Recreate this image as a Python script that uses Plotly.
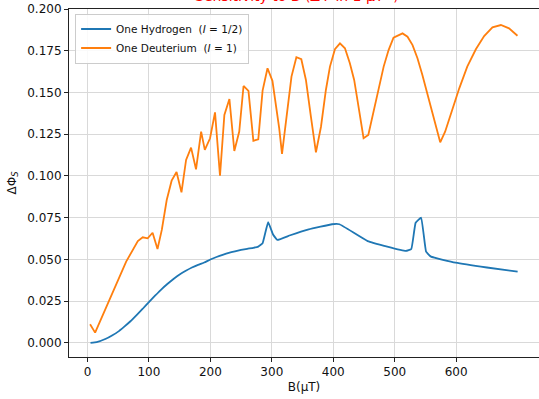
import plotly.graph_objects as go

# One Hydrogen (I = 1/2)
b_h = [5, 15, 30, 40, 50, 60, 70, 80, 90, 100, 110, 120, 130, 140, 150, 160, 170, 180, 190, 200, 210, 220, 230, 240, 250, 260, 270, 278, 285, 294, 302, 309, 330, 360, 398, 410, 456, 518, 527, 534, 543, 551, 559, 599, 650, 700]
v_h = [0.0, 0.0005, 0.0025, 0.0045, 0.0068, 0.0098, 0.0130, 0.0167, 0.0205, 0.0245, 0.0283, 0.0320, 0.0353, 0.0383, 0.0410, 0.0432, 0.0452, 0.0468, 0.0482, 0.0500, 0.0515, 0.0528, 0.0540, 0.0549, 0.0557, 0.0564, 0.0570, 0.0577, 0.0597, 0.0723, 0.0650, 0.0617, 0.0645, 0.0680, 0.0711, 0.0711, 0.0610, 0.0551, 0.0563, 0.0720, 0.0750, 0.0547, 0.0517, 0.0481, 0.0452, 0.0427]

# One Deuterium (I = 1)
b_d = [4.3, 12.5, 63, 75, 82, 90, 98, 106, 114, 121, 129, 137, 145, 153, 160.5, 168.6, 176.7, 185, 191, 199.5, 207.6, 215.7, 222.8, 231, 239, 247, 254, 262, 270, 278, 285, 293, 301, 312, 316.6, 332, 340, 348, 355.5, 363.6, 371.8, 380, 388, 394.6, 402.7, 410.9, 419, 427, 434, 442, 449.3, 457, 465.6, 473.7, 482, 490, 498, 512.7, 520.8, 529, 537, 545, 553, 561.5, 574, 582, 591, 605, 618, 632, 645.5, 659, 672.7, 686, 699.7]
v_d = [0.0112, 0.0062, 0.0487, 0.0570, 0.0610, 0.0633, 0.0627, 0.0660, 0.0563, 0.0677, 0.0856, 0.0972, 0.1024, 0.0902, 0.1096, 0.1170, 0.1040, 0.1266, 0.1156, 0.1226, 0.1381, 0.1002, 0.1365, 0.1461, 0.1150, 0.1266, 0.1539, 0.1509, 0.1211, 0.1220, 0.1511, 0.1645, 0.1570, 0.1286, 0.1132, 0.1595, 0.1711, 0.1699, 0.1575, 0.1355, 0.1142, 0.1295, 0.1515, 0.1655, 0.1759, 0.1794, 0.1765, 0.1675, 0.1575, 0.1395, 0.1226, 0.1246, 0.1385, 0.1525, 0.1655, 0.1754, 0.1828, 0.1854, 0.1834, 0.1784, 0.1705, 0.1605, 0.1495, 0.1375, 0.1202, 0.1265, 0.1365, 0.1525, 0.1655, 0.1759, 0.1838, 0.1890, 0.1904, 0.1884, 0.1840]

x_ticks = [0, 100, 200, 300, 400, 500, 600]
y_ticks = [0.0, 0.025, 0.05, 0.075, 0.1, 0.125, 0.15, 0.175, 0.2]
y_tick_text = ["0.000", "0.025", "0.050", "0.075", "0.100", "0.125", "0.150", "0.175", "0.200"]

font = "DejaVu Sans"

fig = go.Figure()
fig.add_trace(go.Scatter(x=b_h, y=v_h, mode="lines", name="One Hydrogen&nbsp;&nbsp;(<i>I</i> = 1/2)",
                         line=dict(color="#1f77b4", width=1.8, shape="spline", smoothing=0.3)))
fig.add_trace(go.Scatter(x=b_d, y=v_d, mode="lines", name="One Deuterium&nbsp;&nbsp;(<i>I</i> = 1)",
                         line=dict(color="#ff7f0e", width=1.8)))

axis_common = dict(showline=True, linecolor="#222222", linewidth=1, mirror=True,
                   showgrid=True, gridcolor="#d9d9d9", gridwidth=0.8,
                   ticks="outside", ticklen=4, tickwidth=1, tickcolor="#222222",
                   zeroline=False, tickfont=dict(family=font, size=12, color="#111111"))

fig.update_layout(
    width=539, height=399,
    margin=dict(l=69, r=0, t=9, b=42),
    paper_bgcolor="white", plot_bgcolor="white",
    font=dict(family=font, size=12, color="#111111"),
    xaxis=dict(range=[-30, 734.75], tickvals=x_ticks,
               title=dict(text="B(μT)", font=dict(family=font, size=12), standoff=4), **axis_common),
    yaxis=dict(range=[-0.0084, 0.2], tickvals=y_ticks, ticktext=y_tick_text,
               title=dict(text="ΔΦ<sub><i>S</i></sub>", font=dict(family=font, size=12), standoff=8), **axis_common),
    legend=dict(x=0.013, y=0.987, xanchor="left", yanchor="top",
                bgcolor="rgba(255,255,255,0.85)", bordercolor="#cccccc", borderwidth=1,
                font=dict(family=font, size=10.5, color="#111111"), tracegroupgap=0,
                itemwidth=30),
    showlegend=True,
    annotations=[dict(text="Sensitivity to B (ΔΦ in 1 μT<sup>-1</sup>)", xref="paper", yref="paper",
                      x=(297 - 69) / 470, y=1, xanchor="center", yanchor="bottom", yshift=3,
                      showarrow=False, font=dict(family=font, size=14, color="red"))],
)

fig.write_html("out.html")
